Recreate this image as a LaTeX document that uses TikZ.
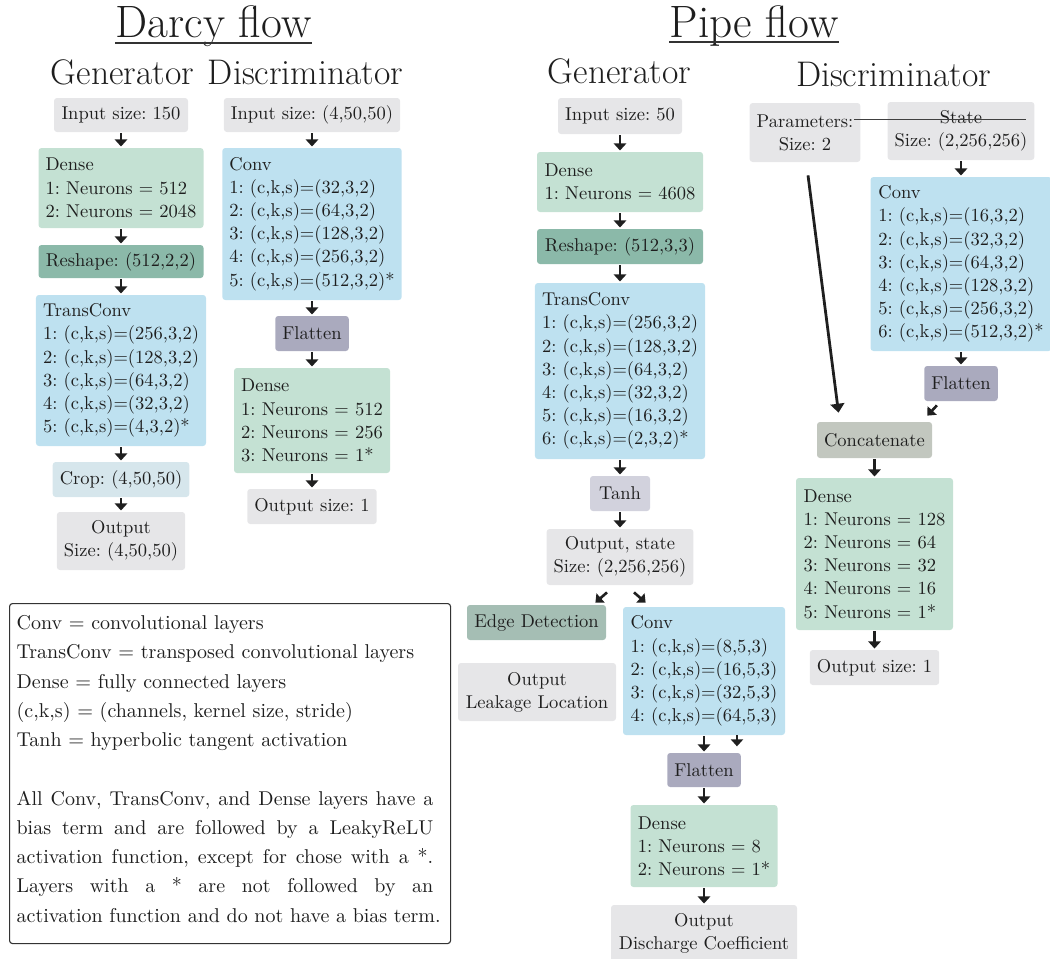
\documentclass[tikz,border=0pt]{standalone}
\usetikzlibrary{arrows.meta}
\definecolor{cgray}{HTML}{E6E6E8}
\definecolor{cgreen}{HTML}{C4E1D3}
\definecolor{cteal}{HTML}{8BB9A9}
\definecolor{cblue}{HTML}{BEE1F0}
\definecolor{ccrop}{HTML}{D6E6EC}
\definecolor{cflat}{HTML}{AAAABE}
\definecolor{ctanh}{HTML}{D2D2DD}
\definecolor{cedge}{HTML}{A5BEB4}
\definecolor{cconc}{HTML}{C2C7BF}
\definecolor{ctext}{HTML}{1E1E1E}
\frenchspacing
\begin{document}
\begin{tikzpicture}[x=0.54pt,y=-0.54pt,
 every node/.style={font=\fontsize{10}{12.5}\selectfont, text=ctext},
 bx/.style={rounded corners=1.6pt, inner xsep=3.8pt, inner ysep=2pt, minimum width=#1*0.54pt},
 lb/.style={bx=#1, align=left},
 cb/.style={bx=#1, align=center},
 ht/.style={minimum height=#1*0.54pt},
 ar/.style={-{Triangle[width=6.6pt,length=3.8pt]}, line width=1.4pt, draw=black!88, shorten <=0.6pt, shorten >=0.6pt},
 dar/.style={ar, shorten <=0pt, shorten >=0pt},
 lar/.style={-{Triangle[width=7.5pt,length=4.8pt]}, line width=1.5pt, draw=black!88},
 ttl/.style={font=\fontsize{24.5}{29}\selectfont, inner sep=0pt, anchor=base},
 sub/.style={font=\fontsize{19.2}{23}\selectfont, inner sep=0pt, anchor=base},
 ul/.style={line width=0.75pt, draw=black!80},
 leg/.style={draw=black!80, line width=0.6pt, rounded corners=1.6pt, anchor=north west, minimum width=441*0.54pt, minimum height=340*0.54pt, inner sep=0pt}
]
\useasboundingbox (0,0) rectangle (1050,958);

% titles
\node[ttl] (t1) at (213.5,38) {Darcy flow};
\draw[ul] ([yshift=-2.7pt]t1.base west) -- ([yshift=-2.7pt]t1.base east);
\node[ttl] (t2) at (754,38) {Pipe flow};
\draw[ul] ([yshift=-2.2pt]t2.base west) -- ([yshift=-2.2pt]t2.base east);
\node[sub] (s1) at (122.5,84) {Generator};
\node[sub] (s2) at (305.5,84) {Discriminator};
\node[sub] (s3) at (619.5,83) {Generator};
\node[sub] (s4) at (893.5,86) {Discriminator};

% Darcy generator
\node[cb=134, ht=34, fill=cgray] (in1) at (121,115) {Input size: 150};
\node[lb=165, ht=80, fill=cgreen] (dg1) at (121,188) {Dense\\1: Neurons $=$ 512\\2: Neurons $=$ 2048};
\node[lb=165, ht=33, fill=cteal] (rs1) at (121,261.5) {Reshape: (512,2,2)};
\node[lb=169, ht=151, fill=cblue] (tc1) at (121,370.5) {TransConv\\1: (c,k,s)$=$(256,3,2)\\2: (c,k,s)$=$(128,3,2)\\3: (c,k,s)$=$(64,3,2)\\4: (c,k,s)$=$(32,3,2)\\5: (c,k,s)$=$(4,3,2)*};
\node[cb=136, ht=35, fill=ccrop] (cr1) at (121,479.5) {Crop: (4,50,50)};
\node[cb=128, ht=58, fill=cgray] (ou1) at (121,541) {Output\\Size: (4,50,50)};
\draw[ar] (in1) -- (dg1);
\draw[ar] (dg1) -- (rs1);
\draw[ar] (rs1) -- (tc1);
\draw[ar] (tc1) -- (cr1);
\draw[ar] (cr1) -- (ou1);

% Darcy discriminator
\node[cb=175, ht=34, fill=cgray] (in2) at (312,115) {Input size: (4,50,50)};
\node[lb=178, ht=152, fill=cblue] (cv2) at (312,224) {Conv\\1: (c,k,s)$=$(32,3,2)\\2: (c,k,s)$=$(64,3,2)\\3: (c,k,s)$=$(128,3,2)\\4: (c,k,s)$=$(256,3,2)\\5: (c,k,s)$=$(512,3,2)*};
\node[cb=72, ht=35, fill=cflat] (fl2) at (312,333.5) {Flatten};
\node[lb=156, ht=105, fill=cgreen] (dn2) at (312,420.5) {Dense\\1: Neurons $=$ 512\\2: Neurons $=$ 256\\3: Neurons $=$ 1*};
\node[cb=128, ht=35, fill=cgray] (ou2) at (312,506.5) {Output size: 1};
\draw[ar] (in2) -- (cv2);
\draw[ar] (cv2) -- (fl2);
\draw[ar] (fl2) -- (dn2);
\draw[ar] (dn2) -- (ou2);

% Pipe generator
\node[cb=124, ht=36, fill=cgray] (in3) at (620,116) {Input size: 50};
\node[lb=166, ht=60, fill=cgreen] (dn3) at (620,182) {Dense\\1: Neurons $=$ 4608};
\node[lb=166, ht=35, fill=cteal] (rs3) at (620,246.5) {Reshape: (512,3,3)};
\node[lb=170, ht=176, fill=cblue] (tc3) at (620,371) {TransConv\\1: (c,k,s)$=$(256,3,2)\\2: (c,k,s)$=$(128,3,2)\\3: (c,k,s)$=$(64,3,2)\\4: (c,k,s)$=$(32,3,2)\\5: (c,k,s)$=$(16,3,2)\\6: (c,k,s)$=$(2,3,2)*};
\node[cb=60, ht=35, fill=ctanh] (th3) at (620,493.5) {Tanh};
\node[cb=146, ht=56, fill=cgray] (os3) at (620,557) {Output, state\\Size: (2,256,256)};
\node[cb=139, ht=35, fill=cedge] (ed3) at (536.5,622.5) {Edge Detection};
\node[cb=158, ht=58, fill=cgray] (lk3) at (537,692) {Output\\Leakage Location};
\node[lb=162, ht=128, fill=cblue] (cv3) at (704,671) {Conv\\1: (c,k,s)$=$(8,5,3)\\2: (c,k,s)$=$(16,5,3)\\3: (c,k,s)$=$(32,5,3)\\4: (c,k,s)$=$(64,5,3)};
\node[cb=72, ht=34, fill=cflat] (fl3) at (704,770) {Flatten};
\node[lb=147, ht=82, fill=cgreen] (dn3b) at (704,846) {Dense\\1: Neurons $=$ 8\\2: Neurons $=$ 1*};
\node[cb=186, ht=57, fill=cgray] (oc3) at (704,933.5) {Output\\Discharge Coefficient};
\draw[ar] (in3) -- (dn3);
\draw[ar] (dn3) -- (rs3);
\draw[ar] (rs3) -- (tc3);
\draw[ar] (tc3) -- (th3);
\draw[ar] (th3) -- (os3);
\draw[dar] ([shift={(-13,7)}]os3.south) -- ([shift={(-11,-2)}]ed3.north east);
\draw[dar] ([shift={(14,7)}]os3.south) -- ([shift={(23,-4)}]cv3.north west);
\draw[ar] (cv3) -- (fl3);
\draw[dar] ([xshift=17.8pt]cv3.south) -- ([xshift=17.8pt,yshift=3.4pt]fl3.north);
\draw[ar] (fl3) -- (dn3b);
\draw[ar] (dn3b) -- (oc3);

% Pipe discriminator
\node[cb=110, ht=59, fill=cgray] (pr4) at (805,132.5) {Parameters:\\Size: 2};
\node[cb=146, ht=58, fill=cgray] (st4) at (961,131) {State\\Size: (2,256,256)};
\node[lb=181, ht=174, fill=cblue] (cv4) at (961,264) {Conv\\1: (c,k,s)$=$(16,3,2)\\2: (c,k,s)$=$(32,3,2)\\3: (c,k,s)$=$(64,3,2)\\4: (c,k,s)$=$(128,3,2)\\5: (c,k,s)$=$(256,3,2)\\6: (c,k,s)$=$(512,3,2)*};
\node[cb=73, ht=35, fill=cflat] (fl4) at (961,383.5) {Flatten};
\node[cb=115, ht=36, fill=cconc] (cc4) at (874.5,440) {Concatenate};
\node[lb=157, ht=152, fill=cgreen] (dn4) at (874.5,554) {Dense\\1: Neurons $=$ 128\\2: Neurons $=$ 64\\3: Neurons $=$ 32\\4: Neurons $=$ 16\\5: Neurons $=$ 1*};
\node[cb=129, ht=35, fill=cgray] (ou4) at (874.5,667.5) {Output size: 1};
\draw[line width=0.7pt, draw=black!75] ([shift={(-7,17)}]pr4.north east) -- ([shift={(-9,18)}]st4.north east);
\draw[ar] (st4) -- (cv4);
\draw[ar] (cv4) -- (fl4);
\draw[dar] ([shift={(13,4)}]fl4.south west) -- ([shift={(-5,-6)}]cc4.north east);
\draw[lar] ([shift={(3,13)}]pr4.south) -- ([shift={(-36,-9)}]cc4.north);
\draw[ar] (cc4) -- (dn4);
\draw[ar] (dn4) -- (ou4);

% legend
\node[leg] (lg) at (9,603) {\hspace*{3.8pt}\begin{minipage}{225pt}\fontsize{10.8}{15.8}\selectfont
Conv $=$ convolutional layers\\
TransConv $=$ transposed convolutional layers\\
Dense $=$ fully connected layers\\
(c,k,s) $=$ (channels, kernel size, stride)\\
Tanh $=$ hyperbolic tangent activation\par
\vspace{15.8pt}
All Conv, TransConv, and Dense layers have a\linebreak
bias term and are followed by a LeakyReLU\linebreak
activation function, except for chose with a *.\linebreak
Layers with a * are not followed by an\linebreak
\mbox{activation function and do not have a bias term.}\par
\vspace{5pt}
\end{minipage}\hspace*{9.3pt}};
\end{tikzpicture}
\end{document}
